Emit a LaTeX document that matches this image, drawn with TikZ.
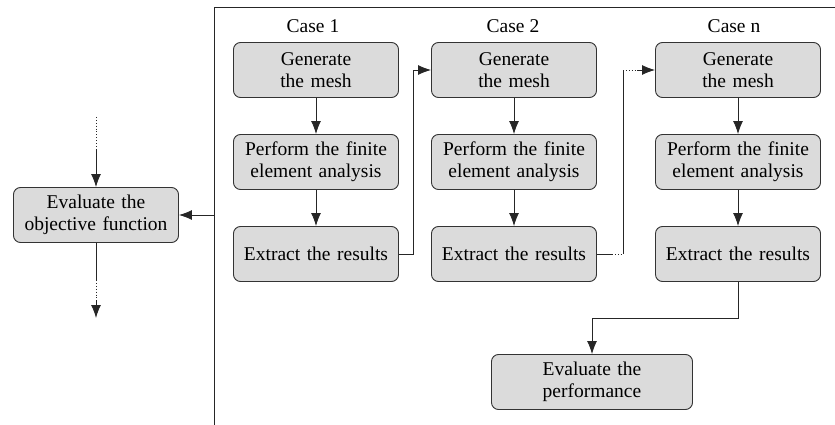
\documentclass[tikz,border=0pt]{standalone}
\usepackage{fontspec}
\setmainfont{Liberation Serif}
\usetikzlibrary{arrows.meta,calc}
\begin{document}
\begin{tikzpicture}[x=1pt,y=-1pt,
  box/.style={draw=black!80,fill=black!14,rounded corners=7pt,line width=0.9pt,
    minimum width=165pt,minimum height=55pt,text width=162pt,align=center,inner sep=1pt,
    font=\fontsize{19.5}{22}\selectfont},
  lbl/.style={font=\fontsize{19.5}{22}\selectfont,inner sep=0pt},
  ln/.style={draw=black!85,line width=0.9pt},
  arr/.style={ln,-{Latex[length=13pt,width=10pt]}}]
\useasboundingbox (0,0) rectangle (835,425);
% frame
\coordinate (ftr) at (835,7);
\coordinate (ftl) at (214,7);
\coordinate (fbl) at (214,425);
\draw[ln] (ftr) -- (ftl) -- (fbl);
% labels
\node[lbl] (c1) at (313,26) {Case 1};
\node[lbl] (c2) at (513,26) {Case 2};
\node[lbl] (cn) at (734,26) {Case n};
% boxes
\node[box] (g1) at (316,70) {Generate\\the mesh};
\node[box] (p1) at (316,162) {Perform the finite\\element analysis};
\node[box] (e1) at (316,254) {Extract the results};
\node[box] (g2) at (514,70) {Generate\\the mesh};
\node[box] (p2) at (514,162) {Perform the finite\\element analysis};
\node[box] (e2) at (514,254) {Extract the results};
\node[box] (gn) at (738,70) {Generate\\the mesh};
\node[box] (pn) at (738,162) {Perform the finite\\element analysis};
\node[box] (en) at (738,254) {Extract the results};
\node[box] (obj) at (96,215) {Evaluate the\\objective function};
\node[box,minimum width=201pt,text width=196pt] (perf) at (592,382) {Evaluate the\\performance};
% vertical arrows
\draw[arr] (g1) -- (p1);
\draw[arr] (p1) -- (e1);
\draw[arr] (g2) -- (p2);
\draw[arr] (p2) -- (e2);
\draw[arr] (gn) -- (pn);
\draw[arr] (pn) -- (en);
% case 1 -> case 2
\draw[arr] (e1.east) -- ++(14,0) |- (g2.west);
% case 2 -> case n (partly dotted)
\coordinate (a1) at (612,254);
\coordinate (a2) at (623,254);
\coordinate (a3) at (623,70);
\coordinate (a4) at (637,70);
\draw[ln] (e2.east) -- (a1);
\draw[ln,dotted] (a1) -- (a2);
\draw[ln] (a2) -- (a3);
\draw[ln,dotted] (a3) -- (a4);
\draw[arr] (a4) -- (gn.west);
% case n -> performance
\coordinate (k) at (592,318);
\draw[arr] (en.south) |- (k) -- (perf.north);
% frame -> objective
\coordinate (fj) at (214,215);
\draw[arr] (fj) -- (obj.east);
% objective in/out
\coordinate (ot) at (96,117);
\coordinate (om) at (96,150);
\draw[ln,dotted] (ot) -- (om);
\draw[arr] (om) -- (obj.north);
\coordinate (ob1) at (96,280);
\coordinate (ob2) at (96,300);
\coordinate (ob3) at (96,318);
\draw[ln] (obj.south) -- (ob1);
\draw[ln,dotted] (ob1) -- (ob2);
\draw[arr] (ob2) -- (ob3);
\end{tikzpicture}
\end{document}
